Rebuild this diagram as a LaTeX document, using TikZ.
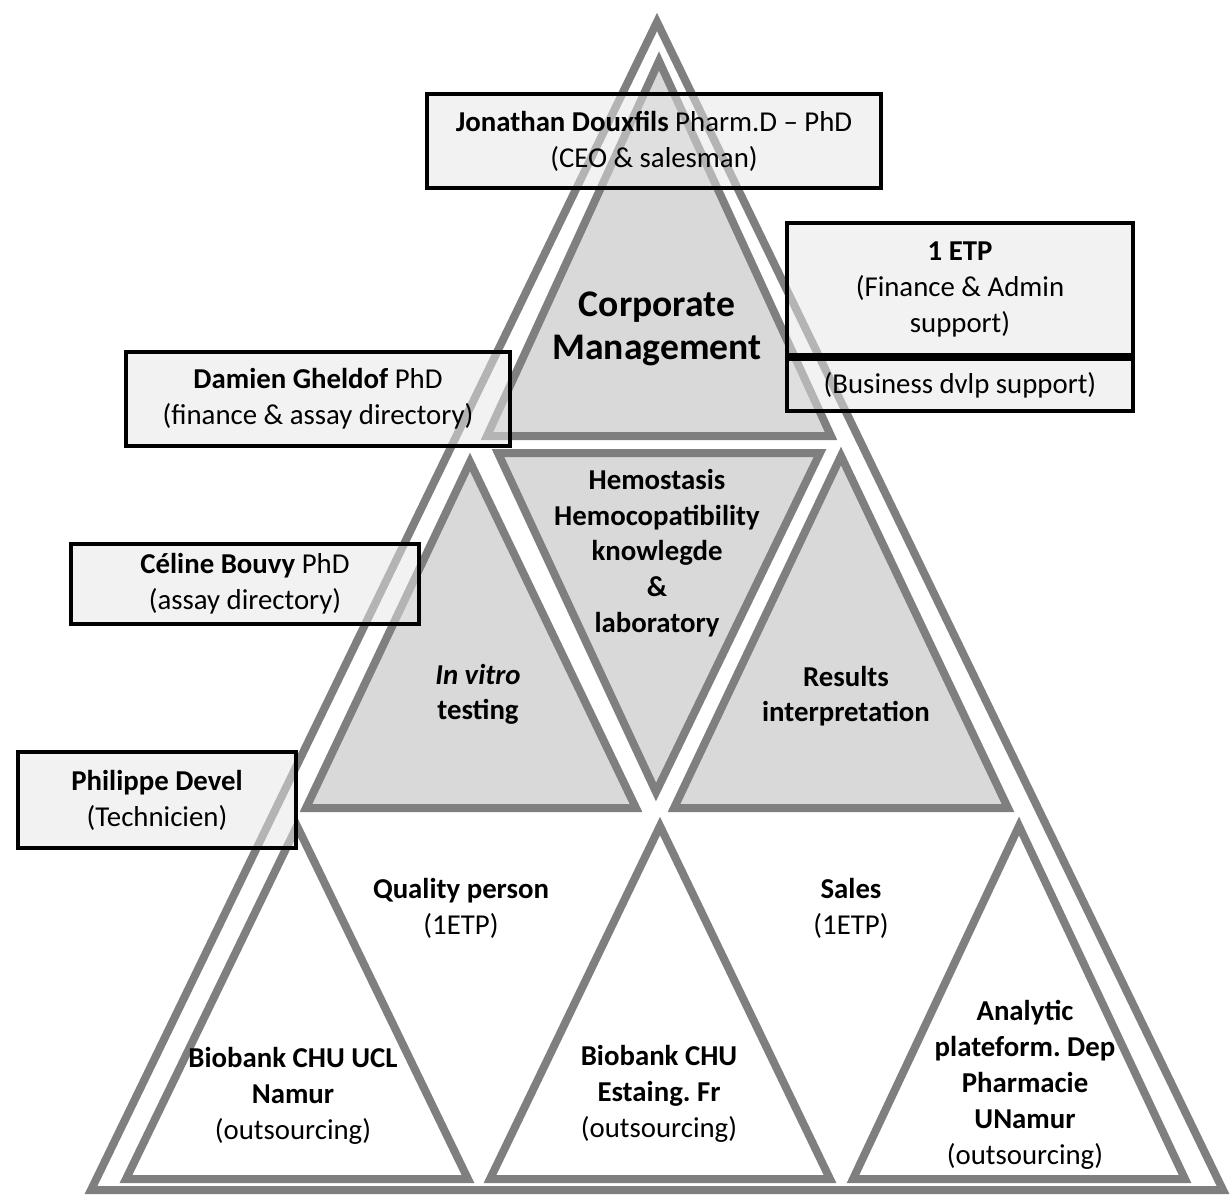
\documentclass[tikz,border=0pt]{standalone}
\usepackage{fontspec}
\setmainfont{Carlito}
\frenchspacing
\definecolor{triline}{HTML}{7F7F7F}
\definecolor{trifill}{HTML}{D9D9D9}
\definecolor{boxfill}{HTML}{E6E6E6}
\begin{document}
\frenchspacing
\begin{tikzpicture}[x=0.5pt,y=-0.5pt,
  tri/.style={draw=triline,line width=4pt,line join=miter},
  shaded/.style={tri,fill=trifill},
  lbl/.style={align=center,font=\fontsize{14.4}{18}\selectfont,inner sep=0pt},
  box/.style={draw=black,line width=2pt,fill=boxfill,fill opacity=0.52,text opacity=1,
    align=center,font=\fontsize{14.4}{18}\selectfont,inner sep=0pt}]
\useasboundingbox (0,0) rectangle (1230,1196);

% outer triangle
\coordinate (oA) at (657,22);
\coordinate (oL) at (91,1190);
\coordinate (oR) at (1223,1190);
\draw[tri] (oA) -- (oL) -- (oR) -- cycle;

% top triangle
\coordinate (tA) at (659,61);
\coordinate (tL) at (487,436);
\coordinate (tR) at (831,436);
\draw[shaded] (tA) -- (tL) -- (tR) -- cycle;

% middle row
\coordinate (m1A) at (470,462);
\coordinate (m1L) at (306,808);
\coordinate (m1R) at (636,808);
\draw[shaded] (m1A) -- (m1L) -- (m1R) -- cycle;

\coordinate (m2L) at (498,453);
\coordinate (m2R) at (820,453);
\coordinate (m2B) at (656,792);
\draw[shaded] (m2L) -- (m2R) -- (m2B) -- cycle;

\coordinate (m3A) at (841,456);
\coordinate (m3L) at (674,808);
\coordinate (m3R) at (1008,808);
\draw[shaded] (m3A) -- (m3L) -- (m3R) -- cycle;

% bottom row
\coordinate (b1A) at (297,826);
\coordinate (b1L) at (126,1179);
\coordinate (b1R) at (468,1179);
\draw[tri] (b1A) -- (b1L) -- (b1R) -- cycle;

\coordinate (b2A) at (660,826);
\coordinate (b2L) at (490,1179);
\coordinate (b2R) at (830,1179);
\draw[tri] (b2A) -- (b2L) -- (b2R) -- cycle;

\coordinate (b3A) at (1019,826);
\coordinate (b3L) at (853,1179);
\coordinate (b3R) at (1185,1179);
\draw[tri] (b3A) -- (b3L) -- (b3R) -- cycle;

% texts in triangles
\node[lbl,font=\fontsize{18.8}{21.5}\selectfont\bfseries] (corp) at (657,329) {Corporate\\Management};
\node[lbl,font=\fontsize{14.4}{17.8}\selectfont\bfseries] (hemo) at (657,553) {Hemostasis\\Hemocopatibility\\knowlegde\\\&\\laboratory};
\node[lbl,font=\fontsize{14.4}{17.5}\selectfont\bfseries] (vitro) at (478,694) {\textit{In vitro}\\testing};
\node[lbl,font=\fontsize{14.4}{17.5}\selectfont\bfseries] (res) at (846,696) {Results\\interpretation};
\node[lbl] (qual) at (461,908) {\textbf{Quality person}\\(1ETP)};
\node[lbl] (sales) at (851,908) {\textbf{Sales}\\(1ETP)};
\node[lbl] (bio1) at (293,1096) {\textbf{Biobank CHU UCL}\\\textbf{Namur}\\(outsourcing)};
\node[lbl] (bio2) at (659,1094) {\textbf{Biobank CHU}\\\textbf{Estaing. Fr}\\(outsourcing)};
\node[lbl] (ana) at (1025,1085) {\textbf{Analytic}\\\textbf{plateform. Dep}\\\textbf{Pharmacie}\\\textbf{UNamur}\\(outsourcing)};

% boxes
\node[box,minimum width=227pt,minimum height=47pt] (jd) at (654,141) {\textbf{Jonathan Douxfils} Pharm.D – PhD\\(CEO \& salesman)};
\node[box,minimum width=173pt,minimum height=66pt] (etp) at (960,289) {\textbf{1 ETP}\\(Finance \& Admin\\support)};
\node[box,minimum width=173pt,minimum height=26pt,anchor=north] (bus) at (etp.south) {(Business dvlp support)};
\node[box,minimum width=192pt,minimum height=47pt] (dg) at (318,399) {\textbf{Damien Gheldof} PhD\\(finance \& assay directory)};
\node[box,minimum width=174pt,minimum height=40pt] (cb) at (245,584) {\textbf{Céline Bouvy} PhD\\(assay directory)};
\node[box,minimum width=139pt,minimum height=48pt] (pd) at (157,800) {\textbf{Philippe Devel}\\(Technicien)};
\end{tikzpicture}
\end{document}
